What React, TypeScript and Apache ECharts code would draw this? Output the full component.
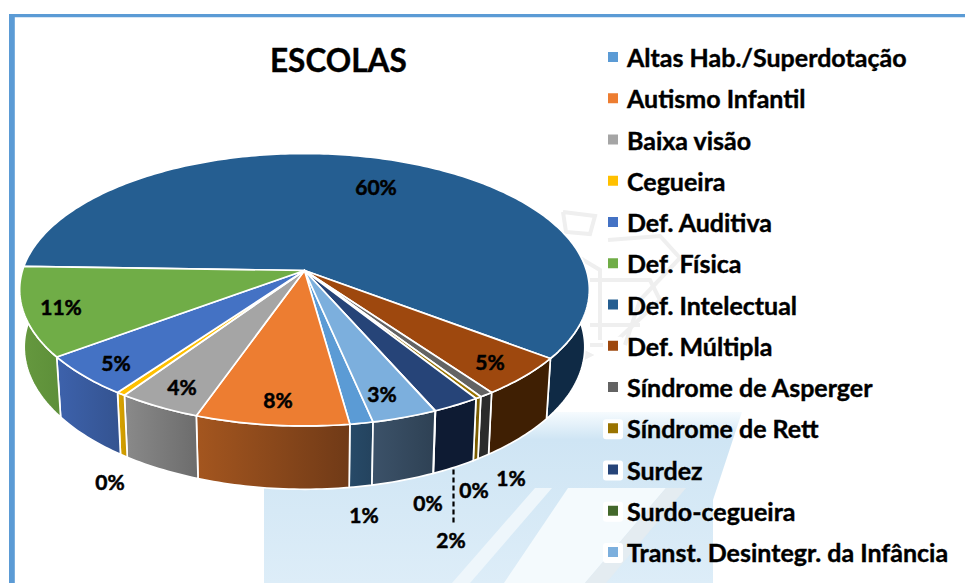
import React, { useEffect, useRef } from "react";
import * as echarts from "echarts";

const titleText = "ESCOLAS";
const categories = [
  "Altas Hab./Superdotação", "Autismo Infantil", "Baixa visão", "Cegueira", "Def. Auditiva",
  "Def. Física", "Def. Intelectual", "Def. Múltipla", "Síndrome de Asperger", "Síndrome de Rett",
  "Surdez", "Surdo-cegueira", "Transt. Desintegr. da Infância",
];
const shares = [1.15, 7.6, 4.14, 0.45, 4.9, 10.6, 59.75, 4.7, 0.7, 0.3, 2.37, 0.02, 3.24];

const topColors = ["#5B9BD5", "#ED7D31", "#A5A5A5", "#FFC000", "#4472C4", "#70AD47", "#255E91", "#9E480E", "#636363", "#997300", "#264478", "#43682B", "#7CAFDD"];
const wallLeft = ["#274A68", "#A4561F", "#8A8A8A", "#DBA500", "#3D62AC", "#66993F", "#0F2A45", "#3F1F03", "#2B2B2B", "#7A5C00", "#0E1B33", "#1B2D12", "#3C5269"];
const wallRight = ["#24435E", "#703A17", "#6C6C6C", "#C79600", "#345390", "#5D8F39", "#0F2A45", "#3F1F03", "#2B2B2B", "#7A5C00", "#0E1B33", "#1B2D12", "#2E4154"];
const labelSpots = [[364, 514], [278, 399], [182, 386], [110, 481], [116, 362], [61, 306], [376, 186], [490, 361], [511, 477], [474, 489], [451, 539], [428, 502], [382, 393]];

// Projected disc
const CX = 304.5, CY = 270.5, SA = 133.5, SB = 282, K = 0.1413, DEPTH = 56.5, SHRINK = 0.984;
const START_DEG = -12.1;
const rad = (d: number) => (d * Math.PI) / 180;
const project = (deg: number, r: number, low: boolean) => {
  const u = -Math.sin(rad(deg)) * r;
  const v = Math.cos(rad(deg)) * r;
  const w = 1 / (1 - K * v);
  const s = low ? SHRINK : 1;
  const d = low ? DEPTH : 0;
  return [CX + SB * s * u * w, CY + (SA * s * v + d) * w];
};
const arc = (a: number, b: number, low: boolean) => {
  const pts: number[][] = [];
  const n = Math.max(2, Math.ceil(Math.abs(b - a)));
  for (let i = 0; i <= n; i++) pts.push(project(a + ((b - a) * i) / n, 1, low));
  return pts;
};
const total = shares.reduce((a, b) => a + b, 0);
const startOf = (i: number) => START_DEG + (shares.slice(0, i).reduce((a, b) => a + b, 0) / total) * 360;

const FONT = "Lato";
const LEADER = 10; // category index carrying the leader line

function sliceSeries(i: number) {
  return {
    type: "custom",
    name: categories[i],
    coordinateSystem: "none",
    z: categories[i] === "Def. Intelectual" ? 1 : 2,
    silent: true,
    itemStyle: { color: topColors[i] },
    data: [[shares[i]]],
    renderItem: (_p: any, api: any) => {
      const a = startOf(i);
      const b = a + (api.value(0) / total) * 360;
      const top = arc(a, b, false);
      const bottom = arc(a, b, true).reverse();
      const children: any[] = [
        {
          type: "polygon",
          shape: { points: top.concat(bottom) },
          style: {
            fill: new echarts.graphic.LinearGradient(0, 0, 1, 0, [
              { offset: 0, color: wallLeft[i] },
              { offset: 1, color: wallRight[i] },
            ]),
            stroke: "#FFFFFF",
            lineWidth: 1.7,
            lineJoin: "round",
          },
        },
        {
          type: "polygon",
          shape: { points: [project(a, 0, false)].concat(top) },
          style: { fill: topColors[i], stroke: "#FFFFFF", lineWidth: 1.7, lineJoin: "round" },
        },
      ];
      if (i === LEADER) {
        const mid = project((a + b) / 2, 1, true);
        children.push({
          type: "line",
          shape: { x1: Math.round(mid[0]) - 0.5, y1: mid[1] + 2, x2: Math.round(mid[0]) - 0.5, y2: labelSpots[i][1] - 16 },
          style: { stroke: "#000000", lineWidth: 2.2, lineDash: [5, 3] },
        });
      }
      children.push({
        type: "text",
        x: labelSpots[i][0],
        y: labelSpots[i][1],
        style: {
          text: `${Math.round(api.value(0))}%`,
          fill: "#000000",
          stroke: "#000000",
          lineWidth: 0.5,
          font: `bold 21px ${FONT}`,
          align: "center",
          verticalAlign: "middle",
        },
      });
      return { type: "group", children };
    },
  };
}

const backdrop: any[] = [
  { type: "rect", shape: { x: 0, y: 0, width: 965, height: 583 }, style: { fill: "#FFFFFF" }, z: -10 },
  {
    type: "polygon",
    shape: { points: [[264, 440], [500, 412], [742, 412], [713, 500], [713, 583], [264, 583]] },
    style: {
      fill: new echarts.graphic.LinearGradient(0, 0, 0, 1, [
        { offset: 0, color: "#F6FBFE" },
        { offset: 0.16, color: "#CFE5F4" },
        { offset: 1, color: "#DDEDF8" },
      ]),
    },
    z: -9,
  },
  { type: "polygon", shape: { points: [[568, 488], [666, 488], [585, 583], [504, 583]] }, style: { fill: "#F4FAFD" }, z: -8 },
  { type: "polygon", shape: { points: [[666, 488], [686, 488], [606, 583], [585, 583]] }, style: { fill: "#E4ECF1" }, z: -8 },
  { type: "polygon", shape: { points: [[535, 488], [552, 488], [470, 583], [452, 583]] }, style: { fill: "#EEF6FB" }, z: -8 },
  ...[
    [[563, 212], [595, 216], [590, 234], [566, 232], [563, 212]],
    [[608, 240], [660, 236], [680, 258], [640, 300], [625, 345]],
    [[590, 280], [650, 280], [660, 300], [612, 345], [590, 345]],
    [[590, 325], [640, 325]],
    [[575, 255], [600, 270], [600, 340]],
    [[560, 340], [590, 355], [560, 370]],
  ].map((points) => ({ type: "polyline", shape: { points }, style: { stroke: "#EFEFEF", lineWidth: 4, fill: "none" }, z: -8 })),
  ...[5, 6, 7, 8, 9, 10, 11, 12].map((i) => ({
    type: "rect",
    shape: { x: 603, y: 58 + 41.25 * i - 10, width: 20, height: 20, r: 3 },
    style: { fill: "#FFFFFF" },
    z: -7,
  })),
  { type: "rect", shape: { x: 9, y: 14, width: 956, height: 3.2 }, style: { fill: "#5B9BD5" }, z: -6 },
  { type: "rect", shape: { x: 9, y: 14, width: 5.8, height: 569 }, style: { fill: "#5B9BD5" }, z: -6 },
];

export default function App() {
  const ref = useRef<HTMLDivElement>(null);
  useEffect(() => {
    const chart = echarts.init(ref.current!, undefined, { renderer: "svg" });
    chart.setOption({
      animation: false,
      title: {
        text: titleText,
        left: 265,
        top: 35,
        textStyle: { fontFamily: FONT, fontWeight: "bold", fontSize: 31.5, color: "#000000", lineHeight: 40, textBorderColor: "#000000", textBorderWidth: 0.4 },
      },
      legend: {
        orient: "vertical",
        left: 603,
        top: 39,
        icon: "rect",
        itemWidth: 10,
        itemHeight: 10,
        itemGap: 15.25,
        selectedMode: false,
        textStyle: { fontFamily: FONT, fontWeight: "bold", fontSize: 25, color: "#000000", lineHeight: 26, padding: [0, 0, 0, 4], textBorderColor: "#000000", textBorderWidth: 0.4 },
        data: categories.map((name, i) => ({ name, itemStyle: { color: topColors[i] } })),
      },
      graphic: { elements: backdrop },
      series: categories.map((_, i) => sliceSeries(i)),
    });
    return () => chart.dispose();
  }, []);
  return <div ref={ref} style={{ position: "absolute", left: 0, top: 0, width: 965, height: 583 }} />;
}
